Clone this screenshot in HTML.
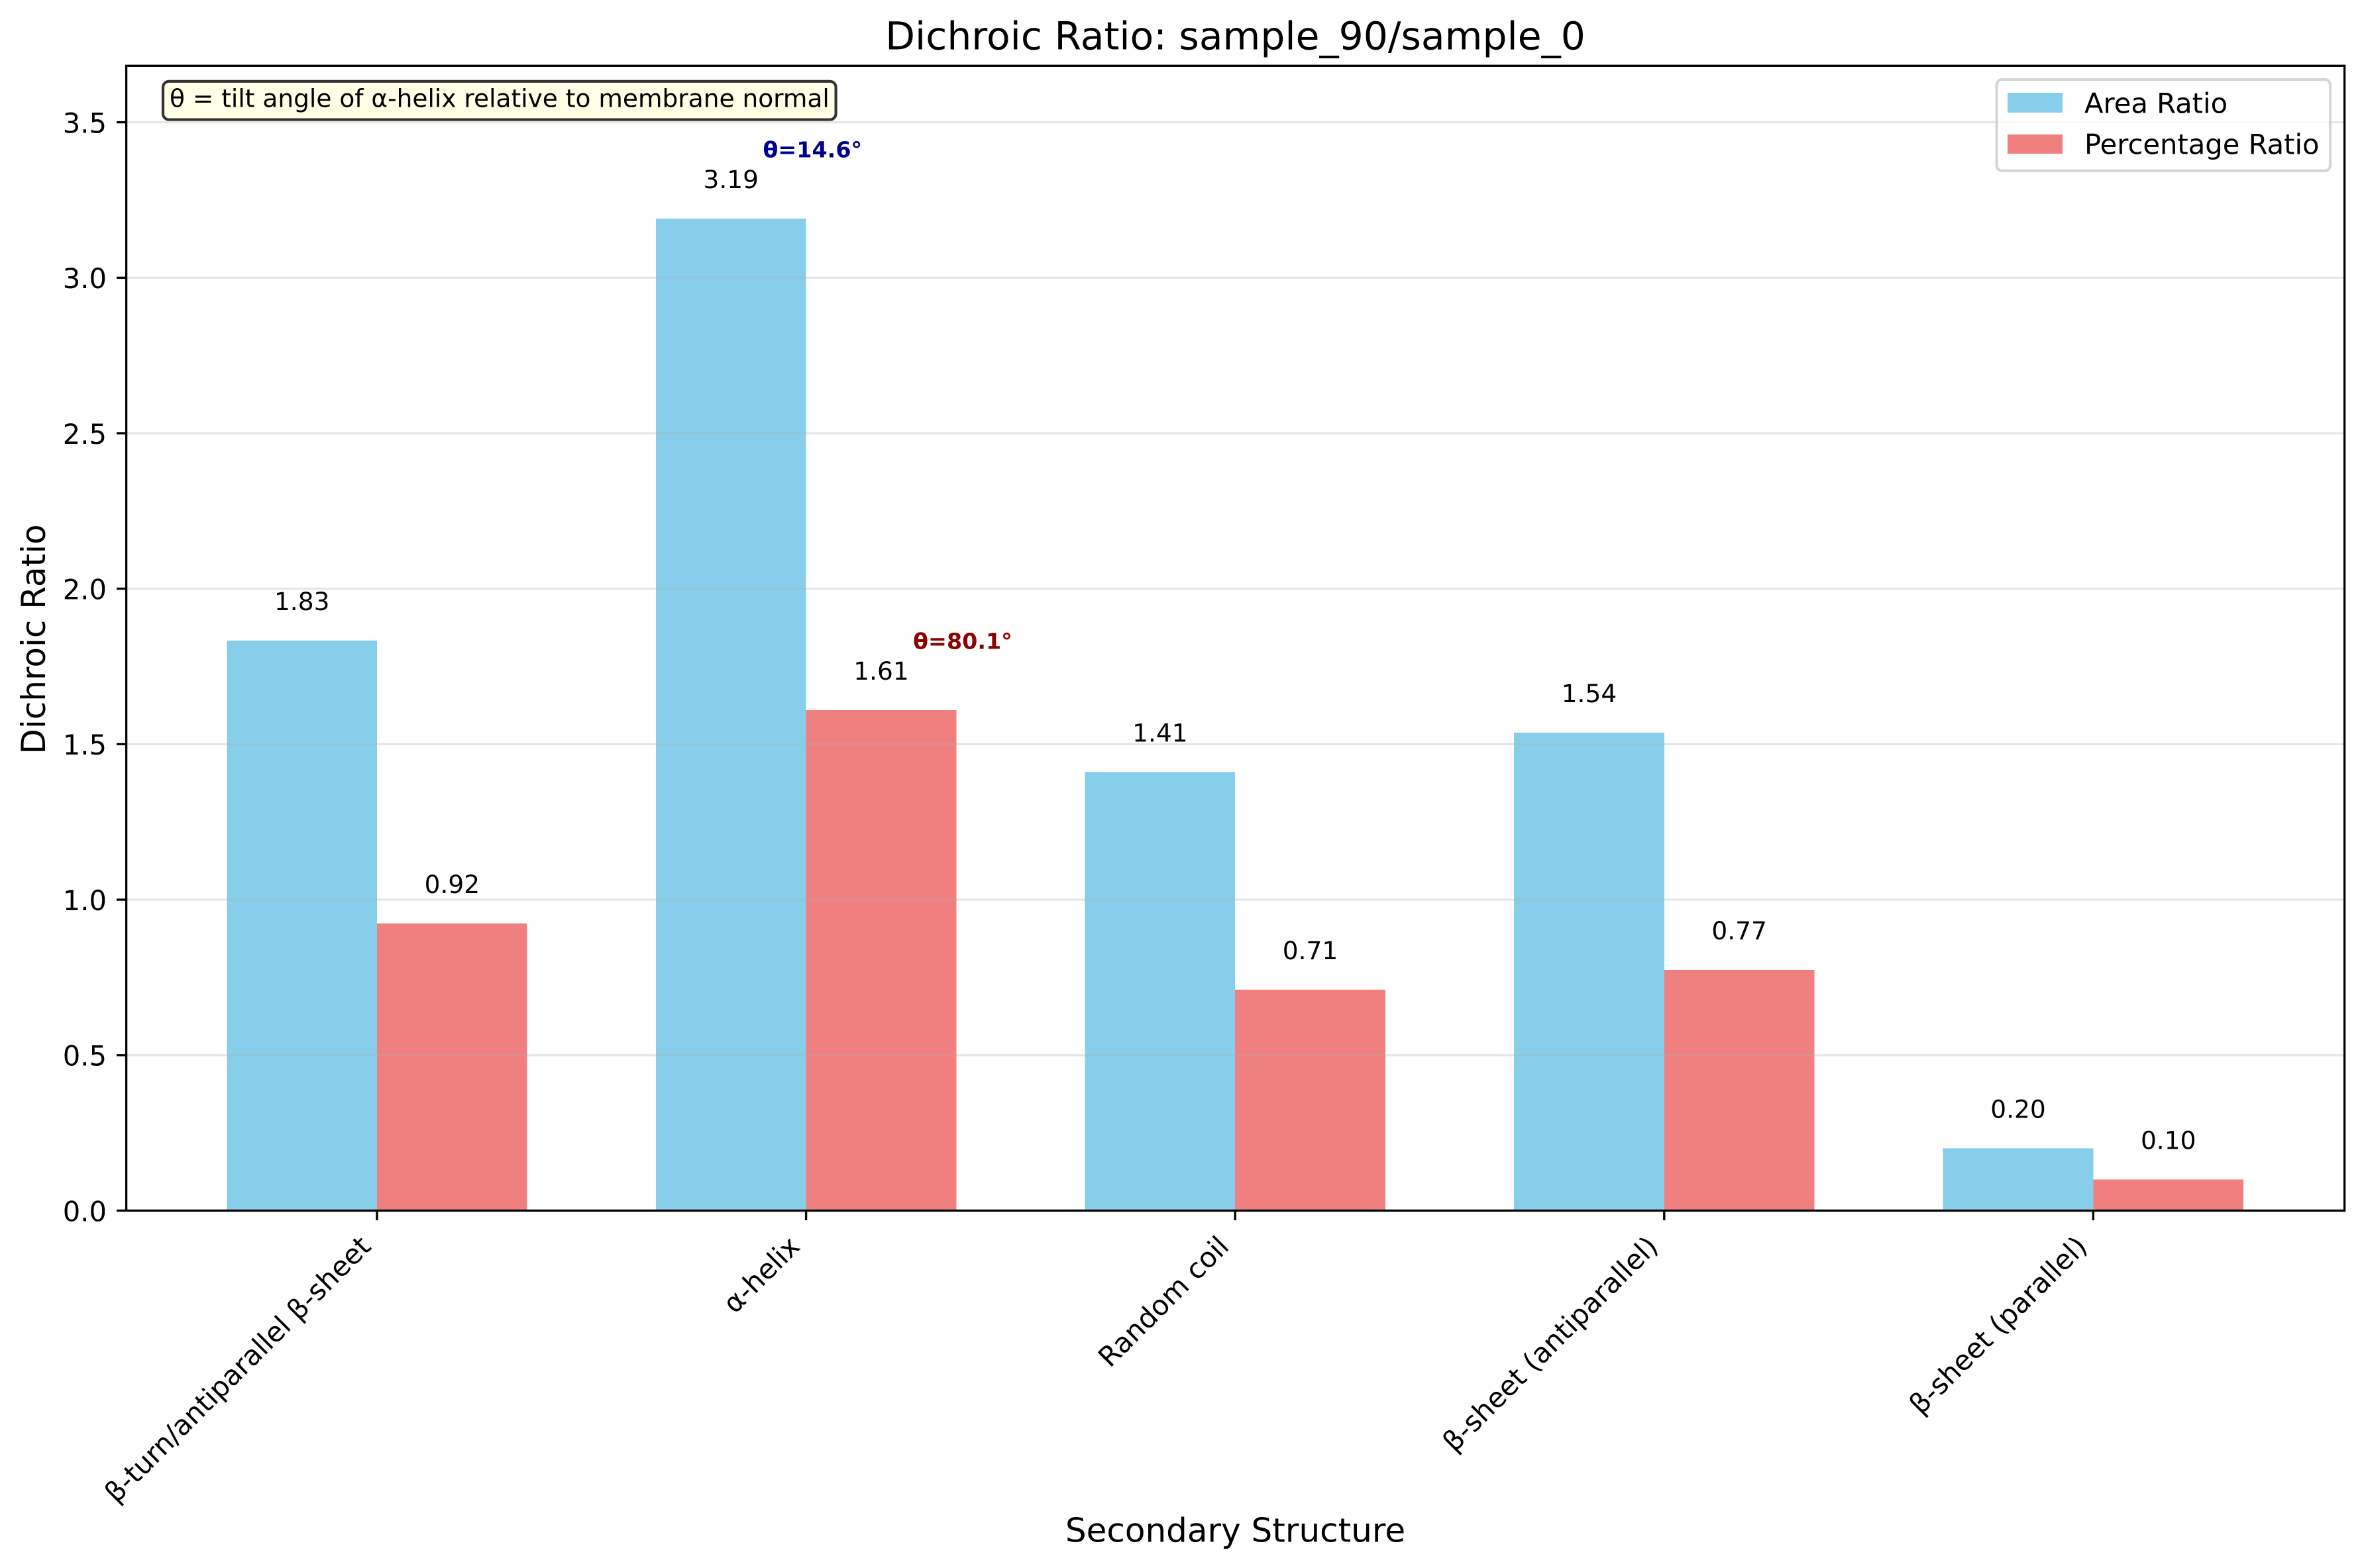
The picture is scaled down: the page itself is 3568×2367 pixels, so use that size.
<!DOCTYPE html>
<html lang="en">
<head>
<meta charset="utf-8">
<title>Dichroic Ratio: sample_90/sample_0</title>
<style>
html,body{margin:0;padding:0;background:#fff;}
svg{display:block;}
text{font-family:"DejaVu Sans","Liberation Sans",sans-serif;fill:#000;}
</style>
</head>
<body>
<svg id="chart" xmlns="http://www.w3.org/2000/svg" width="3568" height="2367" viewBox="0 0 3568 2367">
  <rect x="0" y="0" width="3568" height="2367" fill="#ffffff"/>
  <g id="bars"></g>
  <g id="grid"></g>
  <rect x="190.6" y="99.3" width="3348" height="1728.2" fill="none" stroke="#000" stroke-width="3.33"/>
  <g id="y-axis"></g>
  <g id="x-axis"></g>
  <g id="value-labels"></g>
  <g id="angle-labels"></g>

  <text x="1864.5" y="74.5" font-size="58.33" text-anchor="middle">Dichroic Ratio: sample_90/sample_0</text>
  <text x="1864.5" y="2327.4" font-size="50" text-anchor="middle">Secondary Structure</text>
  <text transform="translate(68 965) rotate(-90)" font-size="50" text-anchor="middle">Dichroic Ratio</text>

  <g>
    <rect x="246" y="122.8" width="1015.6" height="57.8" rx="9" ry="9" fill="#ffffe0" fill-opacity="0.8" stroke="#000" stroke-opacity="0.8" stroke-width="4.17"/>
    <text x="256" y="161.7" font-size="37.5">θ = tilt angle of α-helix relative to membrane normal</text>
  </g>

  <g>
    <rect x="3013.6" y="120" width="503.4" height="137.8" rx="8" ry="8" fill="#ffffff" fill-opacity="0.8" stroke="#cccccc" stroke-opacity="0.8" stroke-width="4.17"/>
    <rect x="3030" y="140" width="83" height="30" fill="#87ceeb"/>
    <text x="3146" y="170.7" font-size="41.67">Area Ratio</text>
    <rect x="3030" y="203" width="83" height="29" fill="#f08080"/>
    <text x="3146" y="232.3" font-size="41.67">Percentage Ratio</text>
  </g>
</svg>
<script>
const categories = ["β-turn/antiparallel β-sheet", "α-helix", "Random coil", "β-sheet (antiparallel)", "β-sheet (parallel)"];
const areaRatio = [1.833, 3.19, 1.41, 1.537, 0.20];
const percentageRatio = [0.9235, 1.61, 0.71, 0.7745, 0.10];
const areaAngles = [null, 14.6, null, null, null];
const percentageAngles = [null, 80.1, null, null, null];
const yTickValues = [0, 0.5, 1, 1.5, 2, 2.5, 3, 3.5];
const yTickLabels = ["0.0", "0.5", "1.0", "1.5", "2.0", "2.5", "3.0", "3.5"];

const NS = "http://www.w3.org/2000/svg";
const plot = { left: 190.2, right: 3538.2, top: 99.3, bottom: 1827.5 };
const frameLeft = 190.6;
const frameRight = 3538.6;
const xDomain = [-0.585, 4.585];
const yDomain = [0, 3.6817];
const barWidth = 0.35;
const tickLength = 14.6;

function xScale(v) {
  return plot.left + (v - xDomain[0]) / (xDomain[1] - xDomain[0]) * (plot.right - plot.left);
}
function yScale(v) {
  return plot.bottom - (v - yDomain[0]) / (yDomain[1] - yDomain[0]) * (plot.bottom - plot.top);
}
function make(tag, attrs, parentId, content) {
  const node = document.createElementNS(NS, tag);
  for (const key in attrs) node.setAttribute(key, attrs[key]);
  if (content !== undefined) node.textContent = content;
  document.getElementById(parentId).appendChild(node);
  return node;
}

function drawBar(i, value, offset, colour, name) {
  const x0 = xScale(i + offset);
  const x1 = xScale(i + offset + barWidth);
  const bar = make("rect", {
    x: x0, y: yScale(value), width: x1 - x0, height: plot.bottom - yScale(value),
    fill: colour, "shape-rendering": "crispEdges"
  }, "bars");
  
  

  const label = make("text", {
    x: (x0 + x1) / 2, y: yScale(value + 0.098), "font-size": 37.5, "text-anchor": "middle"
  }, "value-labels", value.toFixed(2));
  
  
}

function drawAngle(i, value, angle, offset, colour, name) {
  if (angle === null) return;
  const label = make("text", {
    x: xScale(i + offset), y: yScale(value + 0.197), "font-size": 33.33,
    "font-weight": "bold", "text-anchor": "middle", style: "fill:" + colour
  }, "angle-labels", "θ=" + angle.toFixed(1) + "°");
  
  
}

categories.forEach(function (cat, i) {
  drawBar(i, areaRatio[i], -barWidth, "#87ceeb", "area-ratio");
  drawBar(i, percentageRatio[i], 0, "#f08080", "percentage-ratio");
  drawAngle(i, areaRatio[i], areaAngles[i], -barWidth / 2 + 0.19, "#00008b", "area-ratio");
  drawAngle(i, percentageRatio[i], percentageAngles[i], barWidth / 2 + 0.19, "#8b0000", "percentage-ratio");

  const cx = xScale(i);
  const tick = make("line", {
    x1: cx, x2: cx, y1: plot.bottom, y2: plot.bottom + tickLength, stroke: "#000", "stroke-width": 3.33
  }, "x-axis");
  
  

  const tickLabel = make("text", {
    transform: "translate(" + (cx - 7) + " 1884) rotate(-45)",
    "font-size": 41.67, "text-anchor": "end"
  }, "x-axis", cat);
  
  
});

yTickValues.forEach(function (v, i) {
  const y = yScale(v);
  if (v > 0) {
    const gridLine = make("line", {
      x1: frameLeft, x2: frameRight, y1: y, y2: y,
      stroke: "#b0b0b0", "stroke-opacity": 0.3, "stroke-width": 3.33
    }, "grid");
    
    
  }
  const tick = make("line", {
    x1: frameLeft - tickLength, x2: frameLeft, y1: y, y2: y, stroke: "#000", "stroke-width": 3.33
  }, "y-axis");
  
  

  const label = make("text", {
    x: 161, y: y + 15.8, "font-size": 41.67, "text-anchor": "end"
  }, "y-axis", yTickLabels[i]);
  
  
});
</script>
</body>
</html>
